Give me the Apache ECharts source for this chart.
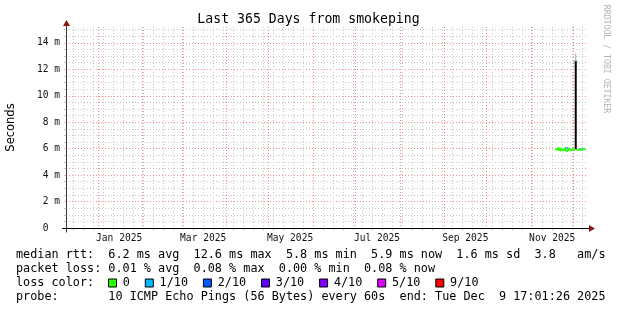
<!DOCTYPE html>
<html><head><meta charset="utf-8">
<script src="https://cdn.jsdelivr.net/npm/echarts@6/dist/echarts.min.js"></script>
<style>html,body{margin:0;padding:0;background:#fff}#c{width:617px;height:310px}</style>
</head><body><div id="c"></div>
<script>
// ---------- texts ----------
const chartTitle = 'Last 365 Days from smokeping';
const yAxisName = 'Seconds';
const creditText = 'RRDTOOL / TOBI OETIKER';

// ---------- axis range & ticks ----------
const rangeStart = '2024-12-09T17:01:26Z';
const rangeEnd = '2025-12-09T17:01:26Z';
const xLabelDates = ['2025-01-16', '2025-03-16', '2025-05-16', '2025-07-16', '2025-09-16', '2025-11-16'];
const xTickLabels = ['Jan 2025', 'Mar 2025', 'May 2025', 'Jul 2025', 'Sep 2025', 'Nov 2025'];
const yMax = 15.2;
const yTickValues = [0, 2, 4, 6, 8, 10, 12, 14];
const yTickLabels = ['0  ', '2 m', '4 m', '6 m', '8 m', '10 m', '12 m', '14 m'];

// ---------- data (ms) ----------
const sampleTimes = [
  '2025-11-18T00:00Z','2025-11-18T12:00Z','2025-11-19T00:00Z','2025-11-19T12:00Z',
  '2025-11-20T00:00Z','2025-11-20T12:00Z','2025-11-21T00:00Z','2025-11-21T12:00Z',
  '2025-11-22T00:00Z','2025-11-22T12:00Z','2025-11-23T00:00Z','2025-11-23T12:00Z',
  '2025-11-24T00:00Z','2025-11-24T12:00Z','2025-11-25T00:00Z','2025-11-25T12:00Z',
  '2025-11-26T00:00Z','2025-11-26T12:00Z','2025-11-27T00:00Z','2025-11-27T12:00Z',
  '2025-11-28T00:00Z','2025-11-28T12:00Z','2025-11-29T00:00Z','2025-11-29T12:00Z',
  '2025-11-30T00:00Z','2025-11-30T12:00Z','2025-12-01T00:00Z','2025-12-01T12:00Z',
  '2025-12-02T00:00Z','2025-12-02T12:00Z','2025-12-03T00:00Z','2025-12-03T12:00Z',
  '2025-12-04T00:00Z','2025-12-04T12:00Z','2025-12-05T00:00Z','2025-12-05T12:00Z',
  '2025-12-06T00:00Z','2025-12-06T12:00Z','2025-12-07T00:00Z','2025-12-07T12:00Z',
  '2025-12-08T00:00Z','2025-12-08T12:00Z','2025-12-09T00:00Z','2025-12-09T12:00Z'
];
const medianRtt = [
  6.00, 5.85, 6.05, 5.90, 6.10, 5.85, 5.95, 6.05, 5.80, 6.00, 5.90, 6.10,
  5.85, 5.95, 6.05, 5.85, 6.00, 5.90, 5.80, 6.05, 5.90, 6.00, 5.85, 5.95,
  5.90, 6.05, 5.85, 5.95, 5.90, null, 5.90, 5.85, 6.00, 5.90, 5.95, 5.85,
  5.90, 5.95, 5.85, 6.00, 5.90, 5.85, 5.95, 5.90
];
const smokeLow = [
  5.95, 5.80, 5.95, 5.85, 6.00, 5.80, 5.90, 5.95, 5.75, 5.95, 5.85, 6.00,
  5.80, 5.90, 5.95, 5.80, 5.95, 5.85, 5.75, 5.95, 5.85, 5.95, 5.80, 5.90,
  5.85, 5.95, 5.80, 5.90, 5.85, 5.85, 5.85, 5.80, 5.95, 5.85, 5.90, 5.80,
  5.85, 5.90, 5.80, 5.95, 5.85, 5.80, 5.90, 5.85
];
const smokeHigh = [
  6.30, 6.25, 6.35, 6.20, 6.35, 6.25, 6.30, 6.35, 6.20, 6.30, 6.25, 6.35,
  6.20, 6.30, 6.35, 6.25, 6.35, 6.30, 6.20, 6.35, 6.25, 6.30, 6.20, 6.30,
  6.25, 6.30, 6.15, 6.20, 6.15, 6.15, 6.10, 6.05, 6.15, 6.10, 6.10, 6.05,
  6.10, 6.10, 6.05, 6.15, 6.05, 6.00, 6.10, 6.05
];
const lossTimes = ['2025-11-26T00:00Z', '2025-12-02T12:00Z', '2025-12-05T12:00Z', '2025-12-07T00:00Z'];
const lossRtt = [6.05, 12.6, 5.95, 5.95];
const spikeTime = '2025-12-02T12:00Z';
const spikeBase = 5.95;
const spikeMedian = 12.6;
const spikeSmokeTop = 13.2;

// ---------- legend stats ----------
const rttStats = [6.2, 12.6, 5.8, 5.9, 1.6];   // avg, max, min, now, sd
const amPerSec = 3.8;
const lossStats = [0.01, 0.08, 0.00, 0.08];   // avg, max, min, now
const lossLabels = ['0', '1/10', '2/10', '3/10', '4/10', '5/10', '9/10'];
const lossColors = ['#26ff00', '#00b8ff', '#0059ff', '#5e00ff', '#7e00ff', '#dd00ff', '#ff0000'];
const probeText = '10 ICMP Echo Pings (56 Bytes) every 60s';
const endText = 'Tue Dec  9 17:01:26 2025';

// ---------- layout ----------
const G = { left: 66, top: 27, width: 520, height: 201, containLabel: false, outerBoundsMode: 'none' };
const MONO = 'DejaVu Sans Mono';
const LEG_FS = 11.8, CW = 7.1;
const minorColor = '#c6c6c6', majorColor = '#f08c8c';
const DASH = [1, 2];

const t = s => Date.parse(s);
const xMin = t(rangeStart), xMax = t(rangeEnd);
const DAY = 86400000;

// grid line positions (weekly on Sundays, monthly on the 1st, every 0.5 ms)
const weekLines = [];
for (let v = Date.UTC(2024, 11, 15); v < xMax; v += 7 * DAY) weekLines.push(v);
const monthLines = [];
for (let m = 0; m < 12; m++) monthLines.push(Date.UTC(2025, m, 1));
const yMinorLines = [];
for (let v = 0; v <= 15; v += 0.5) yMinorLines.push(v);
const xLabelVals = xLabelDates.map(s => Date.parse(s + 'T00:00:00Z'));

const xBase = { type: 'value', min: xMin, max: xMax, axisLine: { show: false } };
const yBase = { type: 'value', min: 0, max: yMax, axisLine: { show: false } };

const smokeBaseData = sampleTimes.map((s, i) => [t(s), smokeLow[i]]);
const smokeBandData = sampleTimes.map((s, i) => [t(s), +(smokeHigh[i] - smokeLow[i]).toFixed(3)]);
const medianData = sampleTimes.map((s, i) => [t(s), medianRtt[i]]);
const lossData = lossTimes.map((s, i) => [t(s), lossRtt[i]]);

const fmt1 = v => v.toFixed(1), fmt2 = v => v.toFixed(2);
const line1 = 'median rtt:  ' + fmt1(rttStats[0]) + ' ms avg  ' + fmt1(rttStats[1]) + ' ms max  ' +
  fmt1(rttStats[2]) + ' ms min  ' + fmt1(rttStats[3]) + ' ms now  ' + fmt1(rttStats[4]) + ' ms sd  ' +
  fmt1(amPerSec) + '   am/s';
const line2 = 'packet loss: ' + fmt2(lossStats[0]) + ' % avg  ' + fmt2(lossStats[1]) + ' % max  ' +
  fmt2(lossStats[2]) + ' % min  ' + fmt2(lossStats[3]) + ' % now';
const line4 = 'probe:       ' + probeText + '  end: ' + endText;

const legendY = [255, 269, 283, 297];
const graphics = [];
const txt = (x, y, s) => ({
  type: 'text', x: x, y: y, silent: true,
  style: { text: s, fontFamily: MONO, fontSize: LEG_FS, fill: '#000', textAlign: 'left', textVerticalAlign: 'middle' }
});
graphics.push(txt(16, legendY[0], line1));
graphics.push(txt(16, legendY[1], line2));
graphics.push(txt(16, legendY[2], 'loss color:'));
graphics.push(txt(16, legendY[3], line4));
let bx = 108.5;
lossLabels.forEach((lab, i) => {
  graphics.push({ type: 'rect', silent: true, shape: { x: bx, y: legendY[2] - 4, width: 8, height: 8 },
    style: { fill: lossColors[i], stroke: '#000', lineWidth: 1 } });
  graphics.push(txt(bx + 14.3, legendY[2], lab));
  bx += 14.3 + lab.length * CW + 15.4;
});
// credit
graphics.push({ type: 'text', x: 606, y: 59, rotation: -Math.PI / 2, silent: true,
  style: { text: creditText, fontFamily: MONO, fontSize: 8.2, fill: '#b4b4b4', textAlign: 'center', textVerticalAlign: 'middle' } });
// axis lines + arrows
const X0 = G.left + 0.5, Y0 = G.top + G.height + 0.5, X1 = G.left + G.width;
graphics.push({ type: 'line', silent: true, z: 50, shape: { x1: X0, y1: Y0 + 4, x2: X0, y2: G.top - 1 }, style: { stroke: '#3a3a3a', lineWidth: 1 } });
graphics.push({ type: 'line', silent: true, z: 50, shape: { x1: G.left - 4, y1: Y0, x2: X1 + 3, y2: Y0 }, style: { stroke: '#000', lineWidth: 1 } });
graphics.push({ type: 'polygon', silent: true, z: 51, shape: { points: [[X0, G.top - 7], [X0 - 3.5, G.top - 1], [X0 + 3.5, G.top - 1]] }, style: { fill: '#8b1515' } });
graphics.push({ type: 'polygon', silent: true, z: 51, shape: { points: [[X1 + 9, Y0], [X1 + 3, Y0 - 3.5], [X1 + 3, Y0 + 3.5]] }, style: { fill: '#8b1515' } });

const option = {
  animation: false,
  backgroundColor: '#fff',
  title: { text: chartTitle, left: 'center', top: 8,
    textStyle: { fontFamily: MONO, fontSize: 13.2, fontWeight: 'normal', color: '#000' } },
  grid: [Object.assign({}, G), Object.assign({}, G)],
  xAxis: [
    Object.assign({}, xBase, { gridIndex: 0,
      axisTick: { show: true, length: 2, customValues: weekLines, lineStyle: { color: minorColor } },
      axisLabel: { show: false },
      splitLine: { show: true, lineStyle: { color: minorColor, width: 1, type: DASH } } }),
    Object.assign({}, xBase, { gridIndex: 1,
      axisTick: { show: false, customValues: monthLines },
      axisLabel: { show: true, customValues: xLabelVals, margin: 5, color: '#111', fontFamily: MONO, fontSize: 9.6,
        formatter: v => { const i = xLabelVals.indexOf(v); return i >= 0 ? xTickLabels[i] : ''; } },
      splitLine: { show: true, lineStyle: { color: majorColor, width: 1, type: DASH } } })
  ],
  yAxis: [
    Object.assign({}, yBase, { gridIndex: 0,
      axisTick: { show: true, length: 2, customValues: yMinorLines, lineStyle: { color: minorColor } },
      axisLabel: { show: false },
      splitLine: { show: true, lineStyle: { color: minorColor, width: 1, type: DASH } } }),
    Object.assign({}, yBase, { gridIndex: 1,
      name: yAxisName, nameLocation: 'middle', nameGap: 49, nameRotate: 90, nameMoveOverlap: false,
      nameTextStyle: { fontFamily: 'DejaVu Sans', fontSize: 11.5, color: '#000' },
      axisTick: { show: false, customValues: yTickValues },
      axisLabel: { show: true, customValues: yTickValues, margin: 6, color: '#111', fontFamily: MONO, fontSize: 9.6,
        formatter: v => { const i = yTickValues.indexOf(v); return i >= 0 ? yTickLabels[i] : ''; } },
      splitLine: { show: true, lineStyle: { color: majorColor, width: 1, type: DASH } } })
  ],
  series: [
    { type: 'line', xAxisIndex: 1, yAxisIndex: 1, stack: 'smoke', data: smokeBaseData, symbol: 'none',
      lineStyle: { width: 0, opacity: 0 }, silent: true },
    { type: 'line', xAxisIndex: 1, yAxisIndex: 1, stack: 'smoke', data: smokeBandData, symbol: 'none',
      lineStyle: { width: 0, opacity: 0 }, areaStyle: { color: '#a0a0a0', opacity: 1 }, silent: true },
    { type: 'line', xAxisIndex: 1, yAxisIndex: 1, data: [[t(spikeTime), spikeMedian], [t(spikeTime), spikeSmokeTop]],
      symbol: 'none', lineStyle: { color: '#a8a8a8', width: 1 }, silent: true },
    { type: 'line', xAxisIndex: 1, yAxisIndex: 1, data: [[t(spikeTime), spikeBase], [t(spikeTime), spikeMedian]],
      symbol: 'none', lineStyle: { color: '#000', width: 2 }, silent: true },
    { type: 'line', xAxisIndex: 1, yAxisIndex: 1, data: medianData, symbol: 'none', connectNulls: false,
      lineStyle: { color: lossColors[0], width: 1.6 }, silent: true },
    { type: 'scatter', xAxisIndex: 1, yAxisIndex: 1, data: lossData, symbol: 'rect', symbolSize: [3, 2],
      itemStyle: { color: lossColors[1] }, silent: true }
  ],
  graphic: graphics
};
const chart = echarts.init(document.getElementById('c'), null, { renderer: 'canvas' });
chart.setOption(option);
</script>
</body></html>
